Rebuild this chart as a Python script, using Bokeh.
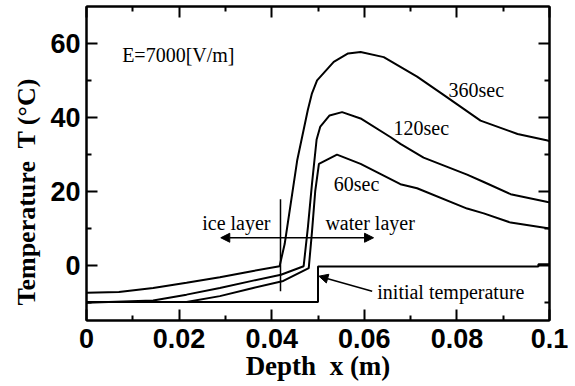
from bokeh.plotting import figure
from bokeh.models import FixedTicker, LinearAxis, Range1d, Label, Arrow, NormalHead, Title
from bokeh.embed import file_html
from bokeh.resources import INLINE

# ---- data ----
x_ticks = [0, 0.02, 0.04, 0.06, 0.08, 0.1]
x_tick_labels = ["0", "0.02", "0.04", "0.06", "0.08", "0.1"]
x_minor = [0.01, 0.03, 0.05, 0.07, 0.09]
y_ticks = [0, 20, 40, 60]
y_tick_labels = ["0", "20", "40", "60"]
y_minor = [-10, 10, 30, 50]

init_x = [0, 0.05, 0.05, 0.0976, 0.0976, 0.1]
init_T = [-10, -10, -0.4, -0.4, 0.2, 0.2]

x_360 = [0, 0.007, 0.0144, 0.0216, 0.0288, 0.036, 0.0417, 0.0428, 0.0455, 0.0478, 0.0487,
         0.0498, 0.0534, 0.0565, 0.0592, 0.0642, 0.0714, 0.0772, 0.0851, 0.0931, 0.0996, 0.1]
T_360 = [-7.5, -7.3, -6.2, -4.8, -3.3, -1.6, -0.3, 5.7, 28.3, 42, 46.5,
         50, 55, 57.3, 57.7, 56.3, 51, 46, 39.1, 35.5, 33.7, 33.5]

x_120 = [0, 0.0144, 0.0216, 0.0288, 0.036, 0.042, 0.0469, 0.0478, 0.0487, 0.0497, 0.0505,
         0.0525, 0.0552, 0.0592, 0.0657, 0.0678, 0.0728, 0.0822, 0.0858, 0.0916, 0.0996, 0.1]
T_120 = [-10.2, -9.6, -8, -6.2, -4.2, -2.6, -0.3, 10, 22, 34, 37.5,
         40.5, 41.4, 39.7, 34.6, 32.8, 29.1, 24.5, 22.5, 19.2, 17.1, 17]

x_60 = [0, 0.0216, 0.0288, 0.036, 0.0425, 0.048, 0.0487, 0.0494, 0.0502, 0.0541, 0.0592,
        0.0678, 0.0714, 0.0822, 0.0858, 0.0916, 0.1]
T_60 = [-10, -10, -8.4, -6.2, -4.3, -0.8, 9, 20, 27.4, 29.9, 27.4,
        21.9, 20.8, 15.3, 14, 11.5, 9.9]

curve_labels = ["360sec", "120sec", "60sec"]
curve_label_x = [0.0782, 0.0663, 0.0534]
curve_label_T = [47.3, 37, 21.9]

# ---- figure ----
p = figure(width=575, height=386, output_backend="svg", toolbar_location=None,
           x_range=Range1d(0, 0.1), y_range=Range1d(-15, 70),
           min_border_left=86, min_border_right=26, min_border_top=6, min_border_bottom=66)
p.xgrid.visible = False
p.ygrid.visible = False
p.outline_line_color = "black"
p.outline_line_width = 2
p.background_fill_color = "white"
p.border_fill_color = "white"

xt = FixedTicker(ticks=x_ticks, minor_ticks=x_minor)
yt = FixedTicker(ticks=y_ticks, minor_ticks=y_minor)

def style_axis(ax, labels):
    ax.axis_line_color = "black"
    ax.axis_line_width = 2
    ax.major_tick_in = 11
    ax.major_tick_out = 0
    ax.minor_tick_in = 5
    ax.minor_tick_out = 0
    ax.major_tick_line_width = 2
    ax.minor_tick_line_width = 2
    ax.major_tick_line_color = "black"
    ax.minor_tick_line_color = "black"
    if labels:
        ax.major_label_text_font = "Liberation Sans"
        ax.major_label_text_font_style = "bold"
        ax.major_label_text_font_size = "27px"
        ax.major_label_text_color = "black"
        ax.axis_label_text_font = "Liberation Serif"
        ax.axis_label_text_font_style = "bold"
        ax.axis_label_text_font_size = "27px"
        ax.axis_label_text_color = "black"
    else:
        ax.major_label_text_font_size = "1px"
        ax.major_label_text_color = None
        ax.major_label_standoff = 0

xa = p.xaxis[0]
xa.ticker = xt
xa.major_label_overrides = {t: l for t, l in zip(x_ticks, x_tick_labels)}
xa.axis_label = "Depth\u00a0 x (m)"
style_axis(xa, True)
xa.major_label_standoff = 8
xa.axis_label_standoff = 0

ya = p.yaxis[0]
ya.ticker = yt
ya.major_label_overrides = {t: l for t, l in zip(y_ticks, y_tick_labels)}
style_axis(ya, True)
ya.major_label_standoff = 6

top = LinearAxis(ticker=xt)
style_axis(top, False)
p.add_layout(top, "above")
right = LinearAxis(ticker=yt)
style_axis(right, False)
p.add_layout(right, "right")

# y-axis title (placed lower than the frame centre, as in the original)
p.add_layout(Title(text="Temperature\u00a0 T (°C)", align="left", offset=15,
                   vertical_align="top",
                   text_font="Liberation Serif", text_font_style="bold",
                   text_font_size="26px", text_color="black"), "left")

# ---- curves ----
for xs, ts in [(init_x, init_T), (x_360, T_360), (x_120, T_120), (x_60, T_60)]:
    p.line(xs, ts, line_color="black", line_width=2)

# ice / water divider
p.segment(x0=[0.0419], y0=[-7.1], x1=[0.0419], y1=[17.8], line_color="black", line_width=1.5)

# double arrow
p.add_layout(Arrow(x_start=0.029, y_start=7.4, x_end=0.062, y_end=7.4,
                   line_color="black", line_width=1.5,
                   start=NormalHead(size=9, fill_color="black", line_color="black"),
                   end=NormalHead(size=9, fill_color="black", line_color="black")))
# initial temperature arrow
p.add_layout(Arrow(x_start=0.0617, y_start=-7.1, x_end=0.0502, y_end=-3.0,
                   line_color="black", line_width=1.5,
                   end=NormalHead(size=9, fill_color="black", line_color="black")))

def add_text(txt, x, y):
    p.add_layout(Label(x=x, y=y, text=txt, text_font="Liberation Serif",
                       text_font_size="20px", text_baseline="middle", text_align="left",
                       text_color="black"))

for txt, x, y in zip(curve_labels, curve_label_x, curve_label_T):
    add_text(txt, x, y)
add_text("E=7000[V/m]", 0.0077, 56.8)
add_text("ice layer", 0.025, 11.4)
add_text("water layer", 0.0516, 11.4)
add_text("initial temperature", 0.0628, -7.2)

open("out.html", "w").write(file_html(p, INLINE))
